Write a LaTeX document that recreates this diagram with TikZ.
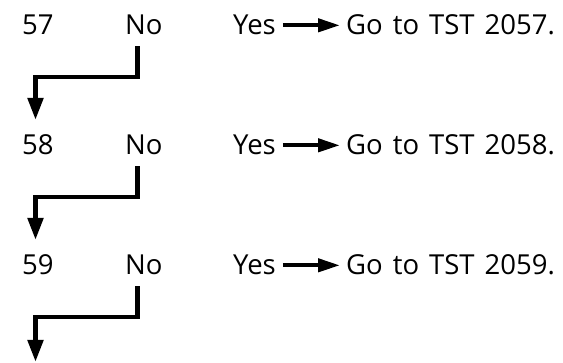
\documentclass[tikz,border=0pt]{standalone}
\usepackage{fontspec}
\setmainfont[WordSpace=1.4]{Open Sans}
\usetikzlibrary{arrows.meta}
\begin{document}
\begin{tikzpicture}[x=1pt,y=-1pt,
  txt/.style={anchor=base west,inner sep=0pt,font=\fontsize{27.5}{30}\selectfont},
  conn/.style={line width=4.8pt,-{Triangle[length=22pt,width=15pt]}},
  yesarrow/.style={line width=4.2pt,-{Triangle[length=22pt,width=13pt]}}]
\useasboundingbox (0,0) rectangle (563,363);
\foreach \i/\n/\y in {1/57/35,2/58/155,3/59/275}{
  \node[txt] (num\i) at (22,\y) {\n};
  \node[txt] (no\i) at (125,\y) {No};
  \node[txt] (yes\i) at (233,\y) {Yes};
  \node[txt] (go\i) at (346,\y) {Go to TST 20\n.};
  \draw[yesarrow] (yes\i.east) ++(7pt,0) coordinate (ys\i) -- ([xshift=-6pt]go\i.west |- ys\i);
}
\coordinate (bend1) at (35.5,77);
\coordinate (tip1) at (35.5,120);
\coordinate (bend2) at (35.5,197);
\coordinate (tip2) at (35.5,240);
\coordinate (bend3) at (35.5,317);
\coordinate (tip3) at (35.5,362);
\draw[conn] ([xshift=-6pt,yshift=-11pt]no1.south) |- (bend1) -- (tip1);
\draw[conn] ([xshift=-6pt,yshift=-11pt]no2.south) |- (bend2) -- (tip2);
\draw[conn] ([xshift=-6pt,yshift=-11pt]no3.south) |- (bend3) -- (tip3);
\end{tikzpicture}
\end{document}
